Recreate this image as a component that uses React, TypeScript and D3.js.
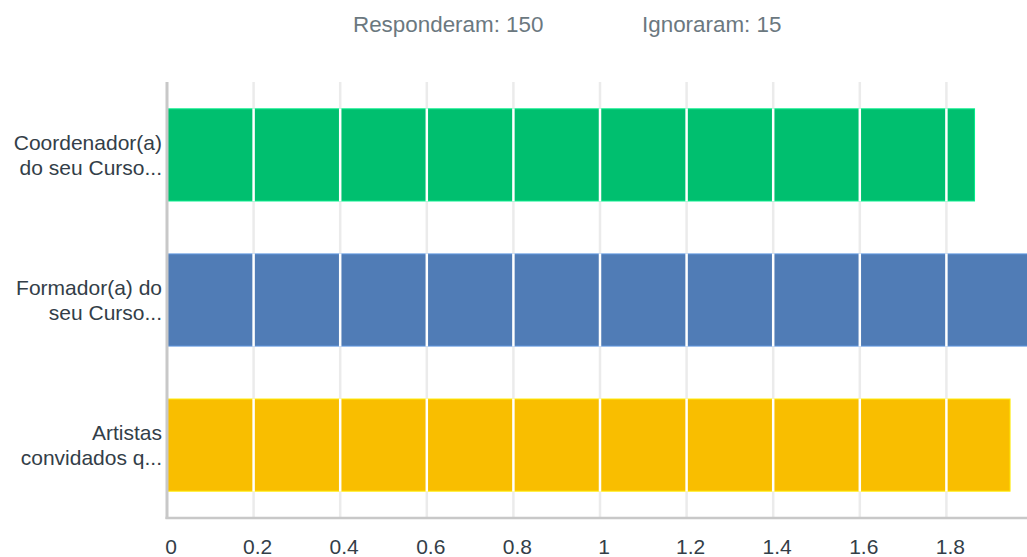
import { useRef, useEffect } from 'react';
import * as d3 from 'd3';

// Categories (two-line labels) and mean values
const categories: string[][] = [
  ['Coordenador(a)', 'do seu Curso...'],
  ['Formador(a) do', 'seu Curso...'],
  ['Artistas', 'convidados q...'],
];
const values: number[] = [1.865, 2.0, 1.947];
const barColors: string[] = ['#00bf6f', '#507cb6', '#f9be00'];
const xTicks: number[] = [0, 0.2, 0.4, 0.6, 0.8, 1, 1.2, 1.4, 1.6, 1.8, 2];
const headerItems: string[] = ['Responderam: 150', 'Ignoraram: 15'];

export default function App() {
  const chartRef = useRef<SVGSVGElement | null>(null);

  useEffect(() => {
    if (!chartRef.current) return;

    const width = 1027;
    const height = 557;
    const left = 167;
    const right = 1033;
    const top = 82;
    const bottom = 518;
    const font = 'Liberation Sans, Arial, sans-serif';

    const svg = d3.select(chartRef.current)
      .attr('width', width)
      .attr('height', height);
    svg.selectAll('*').remove();

    const x = d3.scaleLinear().domain([0, 2]).range([left, right]);
    const y = d3.scaleBand<number>()
      .domain(d3.range(categories.length))
      .range([top, bottom])
      .paddingInner(0.365)
      .paddingOuter(0.185);

    // header
    svg.selectAll('text.header')
      .data(headerItems)
      .enter()
      .append('text')
      .attr('class', 'header')
      .attr('x', (_, i) => [353, 642][i])
      .attr('y', 32)
      .attr('font-family', font)
      .attr('font-size', 22.4)
      .attr('fill', '#6b787f')
      .text((d) => d);

    // grid lines behind bars
    svg.selectAll('line.grid')
      .data(xTicks.slice(1))
      .enter()
      .append('line')
      .attr('class', 'grid')
      .attr('x1', (d) => x(d))
      .attr('x2', (d) => x(d))
      .attr('y1', top)
      .attr('y2', bottom)
      .attr('stroke', '#ebebeb')
      .attr('stroke-width', 2.5);

    // bars
    svg.selectAll('rect.bar')
      .data(values)
      .enter()
      .append('rect')
      .attr('class', 'bar')
      .attr('x', x(0))
      .attr('y', (_, i) => y(i) || 0)
      .attr('width', (d) => x(d) - x(0))
      .attr('height', y.bandwidth())
      .attr('fill', (_, i) => barColors[i])
      .attr('stroke', (_, i) => d3.color(barColors[i])!.brighter(0.6).formatHex())
      .attr('stroke-width', 1);

    // white grid segments over the bars
    values.forEach((v, i) => {
      svg.append('g')
        .selectAll('line')
        .data(xTicks.filter((t) => t > 0 && t < v))
        .enter()
        .append('line')
        .attr('x1', (d) => x(d))
        .attr('x2', (d) => x(d))
        .attr('y1', (y(i) || 0) - 0.5)
        .attr('y2', (y(i) || 0) + y.bandwidth() + 0.5)
        .attr('stroke', '#ffffff')
        .attr('stroke-width', 2.5);
    });

    // axis lines
    svg.append('line')
      .attr('x1', left)
      .attr('x2', left)
      .attr('y1', top)
      .attr('y2', bottom + 1)
      .attr('stroke', '#c8c8c8')
      .attr('stroke-width', 3);
    svg.append('line')
      .attr('x1', left - 1.5)
      .attr('x2', width)
      .attr('y1', bottom)
      .attr('y2', bottom)
      .attr('stroke', '#c8c8c8')
      .attr('stroke-width', 2.5);

    // x tick labels (the last one is cut by the right edge, as in the original)
    svg.selectAll('text.tick')
      .data(xTicks)
      .enter()
      .append('text')
      .attr('class', 'tick')
      .attr('x', (d) => x(d) + 4)
      .attr('y', 554)
      .attr('text-anchor', 'middle')
      .attr('font-family', font)
      .attr('font-size', 21)
      .attr('fill', '#333e48')
      .text((d) => String(d));

    // category labels
    const labels = svg.selectAll('text.cat')
      .data(categories)
      .enter()
      .append('text')
      .attr('class', 'cat')
      .attr('text-anchor', 'end')
      .attr('font-family', font)
      .attr('font-size', 21)
      .attr('fill', '#333e48');
    labels.each(function (lines, i) {
      const cy = (y(i) || 0) + y.bandwidth() / 2;
      d3.select(this)
        .selectAll('tspan')
        .data(lines)
        .enter()
        .append('tspan')
        .attr('x', 162)
        .attr('y', (_, j) => cy - 5 + j * 25)
        .text((d) => d);
    });
  }, []);

  return (
    <div style={{ position: 'absolute', left: 0, top: 0 }}>
      <svg ref={chartRef} style={{ display: 'block' }}></svg>
    </div>
  );
}
